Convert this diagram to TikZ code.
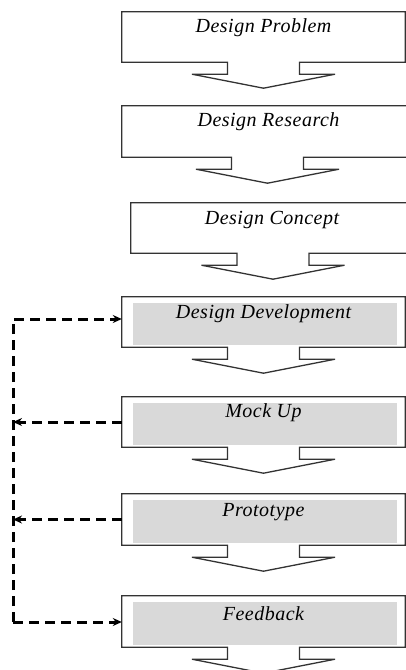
\documentclass[tikz,border=0pt]{standalone}
\usepackage{fontspec}
\setmainfont{Liberation Serif}
\newfontfamily\lblfont[LetterSpace=2.5]{Liberation Serif}
\usetikzlibrary{arrows.meta,calc}
\definecolor{boxline}{HTML}{333333}
\definecolor{insetgray}{HTML}{D9D9D9}
\tikzset{
  boxnode/.style={rectangle, draw=none, inner sep=0pt},
  outline/.style={draw=boxline, line width=1.3pt, fill=white, line join=miter},
  inset/.style={fill=insetgray},
  lbl/.style={font=\lblfont\fontsize{20}{24}\selectfont\itshape, text=black, inner sep=0pt},
  dashline/.style={line width=3pt, dash pattern=on 10pt off 6pt, black},
  tip/.style={-{Stealth[length=9pt,width=8pt]}}
}
\newcommand{\calloutpath}[1]{%
  \draw[outline] ($(#1.south)+(-36,0)$) -- (#1.south west) -- (#1.north west)
    -- (#1.north east) -- (#1.south east) -- ($(#1.south)+(36,0)$)
    -- ($(#1.south)+(36,12)$) -- ($(#1.south)+(71.5,12)$) -- ($(#1.south)+(0,26)$)
    -- ($(#1.south)+(-71.5,12)$) -- ($(#1.south)+(-36,12)$) -- cycle;}
\newcommand{\insetfill}[1]{%
  \fill[inset] ($(#1.north west)+(11,6)$) rectangle ($(#1.south east)+(-8,-2)$);}
\begin{document}
\begin{tikzpicture}[x=1pt,y=-1pt]
\useasboundingbox (0,0) rectangle (406,670);
\clip (0,0) rectangle (406,670);
% boxes
\node[boxnode, minimum width=283pt, minimum height=50pt] (b1) at (263.5,37) {};
\node[boxnode, minimum width=291pt, minimum height=51pt] (b2) at (267.5,131.5) {};
\node[boxnode, minimum width=284pt, minimum height=50pt] (b3) at (273,228) {};
\node[boxnode, minimum width=283pt, minimum height=50pt] (b4) at (263.5,322) {};
\node[boxnode, minimum width=283pt, minimum height=50pt] (b5) at (263.5,422) {};
\node[boxnode, minimum width=283pt, minimum height=51pt] (b6) at (263.5,519.5) {};
\node[boxnode, minimum width=283pt, minimum height=51pt] (b7) at (263.5,621.5) {};
\calloutpath{b1}\calloutpath{b2}\calloutpath{b3}\calloutpath{b4}
\calloutpath{b5}\calloutpath{b6}\calloutpath{b7}
\insetfill{b4}\insetfill{b5}\insetfill{b6}\insetfill{b7}
% labels
\node[lbl] (t1) at ($(b1.north)+(0,16)$) {Design Problem};
\node[lbl] (t2) at ($(b2.north)+(1,16)$) {Design Research};
\node[lbl] (t3) at ($(b3.north)+(-1,17)$) {Design Concept};
\node[lbl] (t4) at ($(b4.north)+(0,17)$) {Design Development};
\node[lbl] (t5) at ($(b5.north)+(0,16)$) {Mock Up};
\node[lbl] (t6) at ($(b6.north)+(0,18)$) {Prototype};
\node[lbl] (t7) at ($(b7.north)+(0,18)$) {Feedback};
% feedback loop
\coordinate (lt) at (13,319);
\coordinate (lb) at (13,622);
\draw[dashline, tip] (lb) -- (lt) -- ($(b4.west)+(0,-3)$);
\draw[dashline, tip] (b5.west) -- (b5.west -| lt);
\draw[dashline, tip] (b6.west) -- (b6.west -| lt);
\draw[dashline, tip] (lb) -- (b7.west |- lb);
\end{tikzpicture}
\end{document}
